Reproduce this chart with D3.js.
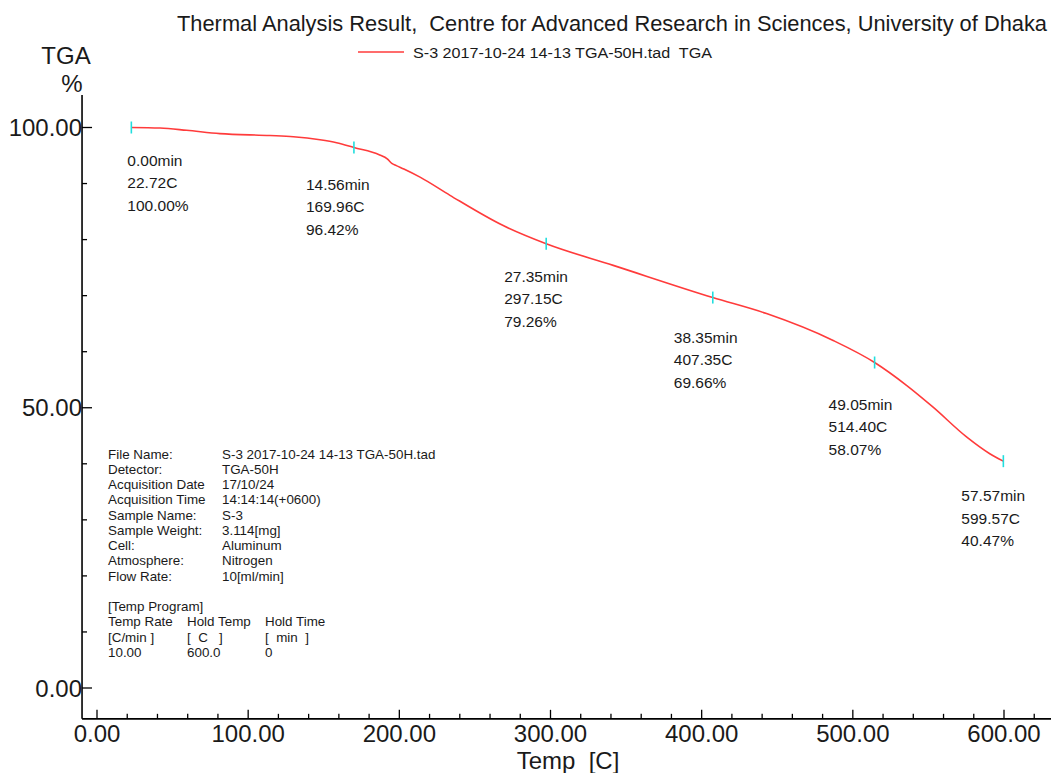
<!DOCTYPE html>
<html>
<head>
<meta charset="utf-8">
<script src="https://cdn.jsdelivr.net/npm/d3@7"></script>
<style>
  html, body { margin: 0; padding: 0; background: #fff; }
  svg { display: block; }
  text { font-family: "Liberation Sans", Arial, sans-serif; fill: #1a1a1a; white-space: pre; }
</style>
</head>
<body>
<svg id="chart" width="1051" height="773"></svg>
<script>
// ---------------- DATA ----------------
const titleText = "Thermal Analysis Result,  Centre for Advanced Research in Sciences, University of Dhaka";
const legendText = "S-3 2017-10-24 14-13 TGA-50H.tad  TGA";
const yAxisTitle = ["TGA", "%"];
const xAxisTitle = "Temp  [C]";

// TGA curve: temperature [C] and weight [%]
const curveTemp = [22.72, 41.7, 59.3, 81.3, 114.4, 129.9, 147.5, 158.5, 169.96, 187.0, 192.0, 195.0, 198.0, 203.0, 214.0, 233.5, 268.7, 297.15, 341.5, 407.35, 442.9, 487.0, 514.40, 535.5, 553.1, 575.2, 590.6, 599.57];
const curveTga  = [100.00, 99.9, 99.5, 98.9, 98.57, 98.35, 97.8, 97.27, 96.42, 95.1, 94.4, 93.6, 93.2, 92.6, 91.1, 87.9, 82.5, 79.26, 75.4, 69.66, 66.8, 62.0, 58.07, 54.0, 50.1, 44.8, 41.8, 40.47];

// Marked points
const markTime = ["0.00", "14.56", "27.35", "38.35", "49.05", "57.57"];
const markTemp = [22.72, 169.96, 297.15, 407.35, 514.40, 599.57];
const markTga  = [100.00, 96.42, 79.26, 69.66, 58.07, 40.47];

// Axis ticks
const xMajorTicks = [0, 100, 200, 300, 400, 500, 600];
const xMinorTicks = [20, 40, 60, 80, 120, 140, 160, 180, 220, 240, 260, 280, 320, 340, 360, 380, 420, 440, 460, 480, 520, 540, 560, 580, 620];
const yMajorTicks = [0, 50, 100];
const yMinorTicks = [10, 20, 30, 40, 60, 70, 80, 90];

// Info block
const infoLabels = ["File Name:", "Detector:", "Acquisition Date", "Acquisition Time", "Sample Name:", "Sample Weight:", "Cell:", "Atmosphere:", "Flow Rate:"];
const infoValues = ["S-3 2017-10-24 14-13 TGA-50H.tad", "TGA-50H", "17/10/24", "14:14:14(+0600)", "S-3", "3.114[mg]", "Aluminum", "Nitrogen", "10[ml/min]"];
const programHeader = "[Temp Program]";
const programCols = [
  ["Temp Rate", "[C/min ]", "10.00"],
  ["Hold Temp", "[  C   ]", "600.0"],
  ["Hold Time", "[  min  ]", "0"]
];

// ---------------- LAYOUT ----------------
const xDomain = [-9.9, 631];
const yDomain = [-5.5, 105.8];
const labelOffsets = [[-4, 38], [-48, 42], [-42, 38], [-39, 45], [-46, 47], [-42, 40]];
const lineGap = 22.5;

const svg = d3.select("#chart");
const x = d3.scaleLinear().domain([0, 600]).range([97, 1004]);
const y = d3.scaleLinear().domain([0, 100]).range([688, 127.5]);
const axisLeft = x(xDomain[0]);
const axisBottom = y(yDomain[0]);
const axisTop = y(yDomain[1]);

// Title
svg.append("text").attr("x", 177).attr("y", 31).attr("font-size", 21.5)
  .attr("textLength", 870).attr("lengthAdjust", "spacingAndGlyphs").text(titleText);

// Legend
svg.append("line").attr("x1", 358).attr("x2", 404).attr("y1", 52).attr("y2", 52)
  .attr("stroke", "#ff3b3b").attr("stroke-width", 1.6);
svg.append("text").attr("x", 413).attr("y", 57.5).attr("font-size", 15.5)
  .attr("textLength", 299).attr("lengthAdjust", "spacingAndGlyphs").text(legendText);

// Y axis title
svg.append("text").attr("x", 66).attr("y", 64).attr("text-anchor", "middle").attr("font-size", 24).text(yAxisTitle[0]);
svg.append("text").attr("x", 72).attr("y", 92).attr("text-anchor", "middle").attr("font-size", 24).text(yAxisTitle[1]);

// Axes lines
svg.append("line").attr("x1", axisLeft).attr("x2", axisLeft).attr("y1", axisTop).attr("y2", axisBottom)
  .attr("stroke", "#000").attr("stroke-width", 1.6);
svg.append("line").attr("x1", axisLeft).attr("x2", 1051).attr("y1", axisBottom).attr("y2", axisBottom)
  .attr("stroke", "#000").attr("stroke-width", 1.6);

// X ticks (inward, upward)
const xAxisG = svg.append("g");
xAxisG.selectAll("line.major").data(xMajorTicks).join("line")
  .attr("x1", d => x(d)).attr("x2", d => x(d)).attr("y1", axisBottom).attr("y2", axisBottom - 9)
  .attr("stroke", "#000").attr("stroke-width", 1.3);
xAxisG.selectAll("line.minor").data(xMinorTicks).join("line")
  .attr("x1", d => x(d)).attr("x2", d => x(d)).attr("y1", axisBottom).attr("y2", axisBottom - 5)
  .attr("stroke", "#000").attr("stroke-width", 1.3);
xAxisG.selectAll("text").data(xMajorTicks).join("text")
  .attr("x", d => x(d)).attr("y", 742).attr("text-anchor", "middle").attr("font-size", 24)
  .text(d => d.toFixed(2));

svg.append("text").attr("x", 568).attr("y", 769).attr("text-anchor", "middle").attr("font-size", 24).text(xAxisTitle);

// Y ticks (inward, rightward)
const yAxisG = svg.append("g");
yAxisG.selectAll("line.major").data(yMajorTicks).join("line")
  .attr("x1", axisLeft).attr("x2", axisLeft + 10).attr("y1", d => y(d)).attr("y2", d => y(d))
  .attr("stroke", "#000").attr("stroke-width", 1.3);
yAxisG.selectAll("line.minor").data(yMinorTicks).join("line")
  .attr("x1", axisLeft).attr("x2", axisLeft + 5).attr("y1", d => y(d)).attr("y2", d => y(d))
  .attr("stroke", "#000").attr("stroke-width", 1.3);
yAxisG.selectAll("text").data(yMajorTicks).join("text")
  .attr("x", axisLeft).attr("y", d => y(d) + 8.5).attr("text-anchor", "end").attr("font-size", 24)
  .text(d => d.toFixed(2));

// Curve
const pts = curveTemp.map((t, i) => [t, curveTga[i]]);
const line = d3.line().x(d => x(d[0])).y(d => y(d[1])).curve(d3.curveMonotoneX);
svg.append("path").datum(pts).attr("d", line)
  .attr("fill", "none").attr("stroke", "#ff3b3b").attr("stroke-width", 1.6);

// Markers
svg.selectAll("line.mark").data(markTemp).join("line")
  .attr("x1", d => x(d)).attr("x2", d => x(d))
  .attr("y1", (d, i) => y(markTga[i]) - 6).attr("y2", (d, i) => y(markTga[i]) + 6)
  .attr("stroke", "#22dede").attr("stroke-width", 1.6);

// Annotations
markTemp.forEach((t, i) => {
  const bx = x(t) + labelOffsets[i][0];
  const by = y(markTga[i]) + labelOffsets[i][1];
  const lines = [markTime[i] + "min", t.toFixed(2) + "C", markTga[i].toFixed(2) + "%"];
  lines.forEach((s, k) => {
    svg.append("text").attr("x", bx).attr("y", by + k * lineGap).attr("font-size", 15.5).text(s);
  });
});

// Info block
const infoG = svg.append("g");
const infoStep = 15.25;
const infoFont = 13.4;
infoLabels.forEach((s, i) => {
  infoG.append("text").attr("x", 108).attr("y", 458.5 + i * infoStep).attr("font-size", infoFont).text(s);
  infoG.append("text").attr("x", 222).attr("y", 458.5 + i * infoStep).attr("font-size", infoFont).text(infoValues[i]);
});
infoG.append("text").attr("x", 108).attr("y", 458.5 + 10 * infoStep).attr("font-size", infoFont).text(programHeader);
const colX = [108, 187, 265];
programCols.forEach((col, c) => {
  col.forEach((s, r) => {
    infoG.append("text").attr("x", colX[c]).attr("y", 458.5 + (11 + r) * infoStep).attr("font-size", infoFont).text(s);
  });
});
</script>
</body>
</html>
